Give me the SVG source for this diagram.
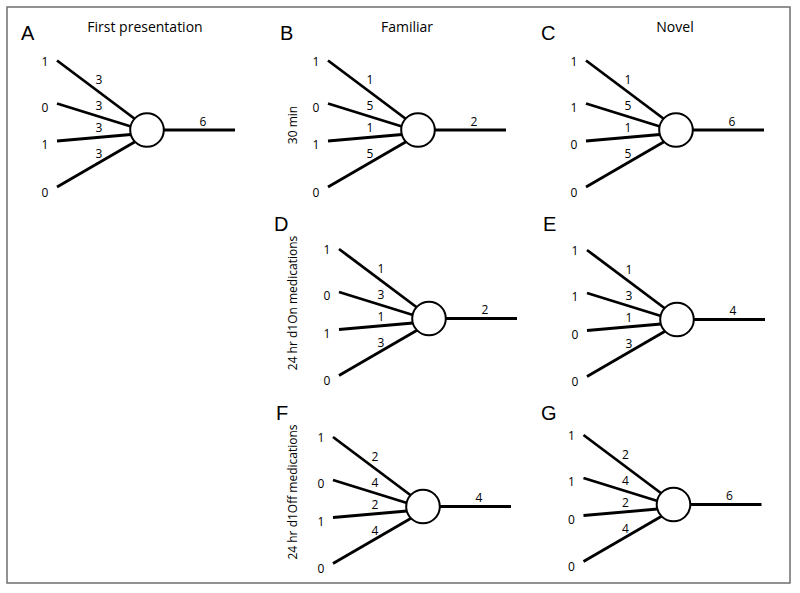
<svg xmlns="http://www.w3.org/2000/svg" width="800" height="593" viewBox="0 0 800 593">
<style>
.bg{fill:#fff}
.frame{fill:none;stroke:#6e6e6e;stroke-width:1.5}
.edge{stroke:#000;stroke-width:2.8;fill:none}
.node{fill:#fff;stroke:#000;stroke-width:2}
.num{font-family:"Open Sans","Liberation Sans",sans-serif;font-size:12px;fill:#000;text-anchor:middle}
.title{font-family:"Open Sans","Liberation Sans",sans-serif;font-size:14px;fill:#000;text-anchor:middle}
.side{font-family:"Open Sans","Liberation Sans",sans-serif;font-size:12px;fill:#000;text-anchor:middle}
.letter{font-family:"Liberation Sans",Arial,sans-serif;font-size:20px;fill:#000}
</style>
<rect class="bg" x="0" y="0" width="800" height="593"/>
<rect class="frame" x="7" y="7" width="783" height="576"/>

<g id="titles">
<text class="title" x="145" y="31.5">First presentation</text>
<text class="title" x="407" y="31.5">Familiar</text>
<text class="title" x="675" y="31.5">Novel</text>
<text class="side" transform="translate(297,125) rotate(-90)">30 min</text>
<text class="side" transform="translate(297,303) rotate(-90)">24 hr d1On medications</text>
<text class="side" transform="translate(297,492) rotate(-90)">24 hr d1Off medications</text>
<text class="letter" x="21" y="40">A</text>
<text class="letter" x="280" y="40">B</text>
<text class="letter" x="541" y="40">C</text>
<text class="letter" x="274" y="230.5">D</text>
<text class="letter" x="543" y="230.5">E</text>
<text class="letter" x="276" y="420">F</text>
<text class="letter" x="541" y="420">G</text>
</g>

<g id="connectors">
<!-- A -->
<line class="edge" x1="57" y1="60.5" x2="135" y2="119"/>
<line class="edge" x1="57" y1="103.5" x2="131" y2="126.5"/>
<line class="edge" x1="57" y1="141" x2="131" y2="134.5"/>
<line class="edge" x1="57" y1="187" x2="135.5" y2="141.5"/>
<line class="edge" x1="162" y1="130" x2="235" y2="130"/>
<!-- B -->
<line class="edge" x1="328" y1="60.5" x2="406" y2="119"/>
<line class="edge" x1="328" y1="103.5" x2="402" y2="126.5"/>
<line class="edge" x1="328" y1="141" x2="402" y2="134.5"/>
<line class="edge" x1="328" y1="187" x2="406.5" y2="141.5"/>
<line class="edge" x1="433" y1="130" x2="506" y2="130"/>
<!-- C -->
<line class="edge" x1="586" y1="60.5" x2="664" y2="119"/>
<line class="edge" x1="586" y1="103.5" x2="660" y2="126.5"/>
<line class="edge" x1="586" y1="141" x2="660" y2="134.5"/>
<line class="edge" x1="586" y1="187" x2="664.5" y2="141.5"/>
<line class="edge" x1="691" y1="130" x2="764" y2="130"/>
<!-- D -->
<line class="edge" x1="339" y1="249" x2="417" y2="307.5"/>
<line class="edge" x1="339" y1="292" x2="413" y2="315"/>
<line class="edge" x1="339" y1="329.5" x2="413" y2="323"/>
<line class="edge" x1="339" y1="375.5" x2="417.5" y2="330"/>
<line class="edge" x1="444" y1="318.5" x2="517" y2="318.5"/>
<!-- E -->
<line class="edge" x1="587" y1="250" x2="665" y2="308.5"/>
<line class="edge" x1="587" y1="293" x2="661" y2="316"/>
<line class="edge" x1="587" y1="330.5" x2="661" y2="324"/>
<line class="edge" x1="587" y1="376.5" x2="665.5" y2="331"/>
<line class="edge" x1="692" y1="319.5" x2="765" y2="319.5"/>
<!-- F -->
<line class="edge" x1="333" y1="437" x2="411" y2="495.5"/>
<line class="edge" x1="333" y1="480" x2="407" y2="503"/>
<line class="edge" x1="333" y1="517.5" x2="407" y2="511"/>
<line class="edge" x1="333" y1="563.5" x2="411.5" y2="518"/>
<line class="edge" x1="438" y1="506.5" x2="511" y2="506.5"/>
<!-- G -->
<line class="edge" x1="583.5" y1="435" x2="661.5" y2="493.5"/>
<line class="edge" x1="583.5" y1="478" x2="657.5" y2="501"/>
<line class="edge" x1="583.5" y1="515.5" x2="657.5" y2="509"/>
<line class="edge" x1="583.5" y1="561.5" x2="662" y2="516"/>
<line class="edge" x1="688.5" y1="504.5" x2="761.5" y2="504.5"/>
</g>

<g id="nodeA"><circle class="node" cx="147" cy="130" r="16.8"/></g>
<g id="nodeB"><circle class="node" cx="418" cy="130" r="16.8"/></g>
<g id="nodeC"><circle class="node" cx="676" cy="130" r="16.8"/></g>
<g id="nodeD"><circle class="node" cx="429" cy="318.5" r="16.8"/></g>
<g id="nodeE"><circle class="node" cx="677" cy="319.5" r="16.8"/></g>
<g id="nodeF"><circle class="node" cx="423" cy="506.5" r="16.8"/></g>
<g id="nodeG"><circle class="node" cx="673.5" cy="504.5" r="16.8"/></g>

<g id="labelsA">
<text class="num" x="45" y="65.5">1</text><text class="num" x="45" y="111.5">0</text><text class="num" x="45" y="149">1</text><text class="num" x="45" y="196.5">0</text>
<text class="num" x="99" y="84">3</text><text class="num" x="99" y="110">3</text><text class="num" x="99" y="132">3</text><text class="num" x="99" y="158">3</text>
<text class="num" x="203" y="125.5">6</text>
</g>
<g id="labelsB">
<text class="num" x="316" y="65.5">1</text><text class="num" x="316" y="111.5">0</text><text class="num" x="316" y="149">1</text><text class="num" x="316" y="196.5">0</text>
<text class="num" x="370" y="84">1</text><text class="num" x="370" y="110">5</text><text class="num" x="370" y="132">1</text><text class="num" x="370" y="158">5</text>
<text class="num" x="474" y="125.5">2</text>
</g>
<g id="labelsC">
<text class="num" x="574" y="65.5">1</text><text class="num" x="574" y="111.5">1</text><text class="num" x="574" y="149">0</text><text class="num" x="574" y="196.5">0</text>
<text class="num" x="628" y="84">1</text><text class="num" x="628" y="110">5</text><text class="num" x="628" y="132">1</text><text class="num" x="628" y="158">5</text>
<text class="num" x="732" y="125.5">6</text>
</g>
<g id="labelsD">
<text class="num" x="327" y="254">1</text><text class="num" x="327" y="300">0</text><text class="num" x="327" y="337.5">1</text><text class="num" x="327" y="385">0</text>
<text class="num" x="381" y="272.5">1</text><text class="num" x="381" y="298.5">3</text><text class="num" x="381" y="320.5">1</text><text class="num" x="381" y="346.5">3</text>
<text class="num" x="485" y="314">2</text>
</g>
<g id="labelsE">
<text class="num" x="575" y="255">1</text><text class="num" x="575" y="301">1</text><text class="num" x="575" y="338.5">0</text><text class="num" x="575" y="386">0</text>
<text class="num" x="629" y="273.5">1</text><text class="num" x="629" y="299.5">3</text><text class="num" x="629" y="321.5">1</text><text class="num" x="629" y="347.5">3</text>
<text class="num" x="733" y="315">4</text>
</g>
<g id="labelsF">
<text class="num" x="321" y="442">1</text><text class="num" x="321" y="488">0</text><text class="num" x="321" y="525.5">1</text><text class="num" x="321" y="573">0</text>
<text class="num" x="375" y="460.5">2</text><text class="num" x="375" y="486.5">4</text><text class="num" x="375" y="508.5">2</text><text class="num" x="375" y="534.5">4</text>
<text class="num" x="479" y="502">4</text>
</g>
<g id="labelsG">
<text class="num" x="571.5" y="440">1</text><text class="num" x="571.5" y="486">1</text><text class="num" x="571.5" y="523.5">0</text><text class="num" x="571.5" y="571">0</text>
<text class="num" x="625.5" y="458.5">2</text><text class="num" x="625.5" y="484.5">4</text><text class="num" x="625.5" y="506.5">2</text><text class="num" x="625.5" y="532.5">4</text>
<text class="num" x="729.5" y="500">6</text>
</g>
</svg>
